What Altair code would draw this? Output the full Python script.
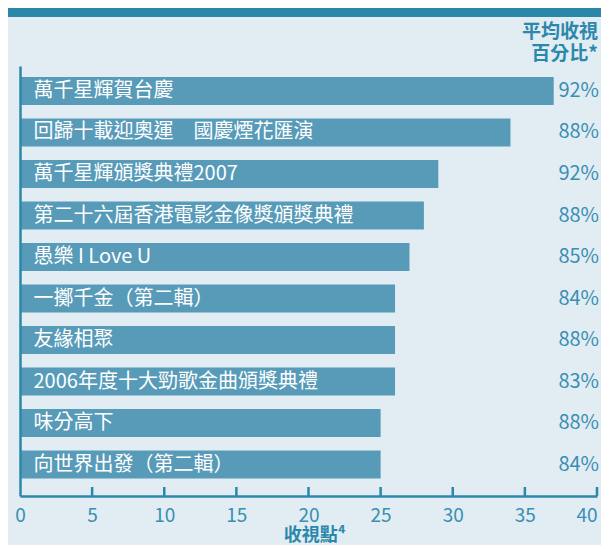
import altair as alt
import pandas as pd

programmes = [
    "萬千星輝賀台慶",
    "回歸十載迎奧運　國慶煙花匯演",
    "萬千星輝頒獎典禮2007",
    "第二十六屆香港電影金像獎頒獎典禮",
    "愚樂 I Love U",
    "一擲千金（第二輯）",
    "友緣相聚",
    "2006年度十大勁歌金曲頒獎典禮",
    "味分高下",
    "向世界出發（第二輯）",
]
ratings = [37, 34, 29, 28, 27, 26, 26, 26, 25, 25]
shares = ["92%", "88%", "92%", "88%", "85%", "84%", "88%", "83%", "88%", "84%"]
tick_values = [0, 5, 10, 15, 20, 25, 30, 35, 40]
header_lines = ["平均收視", "百分比*"]
x_title = "收視點⁴"

df = pd.DataFrame({"programme": programmes, "rating": ratings, "share": shares})
ticks_df = pd.DataFrame({"t": tick_values[1:]})
one = pd.DataFrame({"k": [0]})

W, H = 577, 430
BG = "#e1ecf3"
BAR = "#579bb9"
TEAL = "#2b88ab"
TEXT = "#3a8fb3"
FONT = "Noto Sans CJK TC"

x_scale = alt.Scale(domain=[0, 40], nice=False, zero=True)
y_enc = alt.Y(
    "programme:N",
    sort=programmes,
    scale=alt.Scale(paddingInner=0.325, paddingOuter=0.343, align=0.386),
    axis=alt.Axis(title=None, labels=False, ticks=False, domain=True,
                  domainColor=TEAL, domainWidth=2.5, grid=False, zindex=1),
)

bars = alt.Chart(df).mark_bar(color=BAR).encode(
    x=alt.X("rating:Q", scale=x_scale,
            axis=alt.Axis(values=tick_values, title=None, ticks=False,
                          labelFontSize=19, labelColor=TEXT, labelFont=FONT,
                          labelPadding=10, domainColor=TEAL, domainWidth=2.5,
                          grid=False, zindex=1, labelFlush=False,
                          labelAlign=alt.condition("datum.value == 40",
                                                   alt.value("right"),
                                                   alt.value("center")))),
    y=y_enc,
)

names = alt.Chart(df).mark_text(align="left", baseline="middle", color="white",
                                fontSize=20, font=FONT).encode(
    x=alt.value(13.5), y=alt.Y("programme:N", sort=programmes), text="programme:N")

pct = alt.Chart(df).mark_text(align="right", baseline="middle", color=TEXT,
                              fontSize=20, font=FONT).encode(
    x=alt.value(579), y=alt.Y("programme:N", sort=programmes), text="share:N")

tick_rules = alt.Chart(ticks_df).mark_rule(color=TEAL, strokeWidth=2.5).encode(
    x=alt.X("t:Q", scale=x_scale), y=alt.value(H - 9), y2=alt.value(H))

band = alt.Chart(one).mark_rect(color="#2a87a8").encode(
    x=alt.value(-12), x2=alt.value(W + 4), y=alt.value(-58), y2=alt.value(-49))

header = alt.Chart(pd.DataFrame({"label": ["\n".join(header_lines)]})).mark_text(
    align="right", baseline="middle", color=TEAL, fontSize=19, fontWeight="bold",
    font=FONT, lineBreak="\n", lineHeight=22
).encode(x=alt.value(578), y=alt.value(-34.5), text="label:N")

xt = alt.Chart(pd.DataFrame({"label": [x_title]})).mark_text(
    align="center", baseline="middle", color=TEAL, fontSize=18, fontWeight="bold", font=FONT
).encode(x=alt.value(W / 2 + 6), y=alt.value(470), text="label:N")

chart = alt.layer(band, bars, tick_rules, names, pct, header, xt).properties(
    width=W, height=H,
    background=BG,
    padding={"left": 12, "top": 58, "right": 4, "bottom": 49},
    autosize=alt.AutoSizeParams(type="none"),
).configure_view(stroke=None)

chart.save("out.html", embed_options={"renderer": "svg", "actions": False})
